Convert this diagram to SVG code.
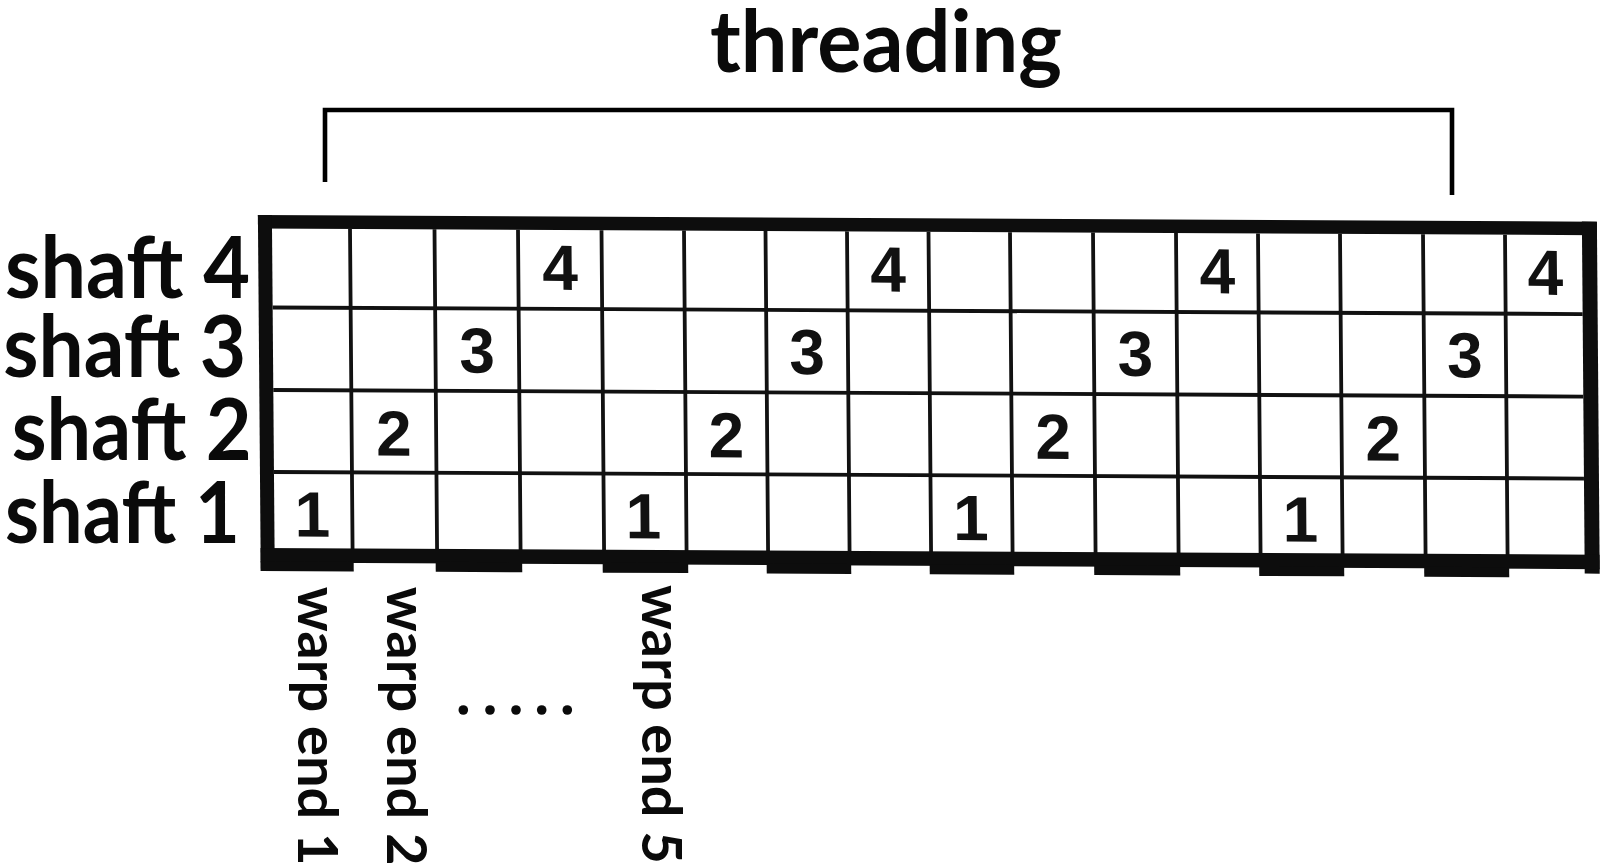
<svg xmlns="http://www.w3.org/2000/svg" width="1600" height="866" viewBox="0 0 1600 866">
<style>
.lbl{font-family:Lato,"Open Sans","Liberation Sans",sans-serif;font-weight:700;fill:#0a0a0a}
.dig{font-family:"Liberation Sans",Arial,sans-serif;font-weight:700;font-size:64px;fill:#111;text-anchor:middle}
.gl{stroke:#111;stroke-width:3.8;fill:none}
.bd{fill:#0d0d0d}
</style>
<rect width="1600" height="866" fill="#fff"/>
<g id="title">
<text class="lbl" x="710" y="71.7" font-size="86" textLength="352" lengthAdjust="spacingAndGlyphs">threading</text>
</g>
<g id="connectors">
<path id="threading-bracket" d="M325,182V110H1452V195" fill="none" stroke="#000" stroke-width="4.6"/>
</g>
<g id="shaft-labels" class="lbl" font-size="87">
<text id="shaft4" x="5" y="298.3" textLength="245" lengthAdjust="spacingAndGlyphs">shaft 4</text>
<text id="shaft3" x="3.3" y="376.7" textLength="243" lengthAdjust="spacingAndGlyphs">shaft 3</text>
<text id="shaft2" x="11.7" y="460" textLength="240" lengthAdjust="spacingAndGlyphs">shaft 2</text>
<text id="shaft1" x="5" y="543.3" textLength="235" lengthAdjust="spacingAndGlyphs">shaft 1</text>
</g>
<g id="grid" transform="matrix(1 0.005 0.008 1 -1.824 -1.36)">
<rect x="272" y="228.5" width="1310" height="321" fill="#fff"/>
<g class="gl">
<path d="M272,307.5H1582M272,390H1582M272,472H1582"/>
<path d="M350,228.5V549.5M434.5,228.5V549.5M518,228.5V549.5M601.5,228.5V549.5M684,228.5V549.5M765.5,228.5V549.5M847,228.5V549.5M928.5,228.5V549.5M1010,228.5V549.5M1093,228.5V549.5M1176,228.5V549.5M1258,228.5V549.5M1340,228.5V549.5M1423,228.5V549.5M1505,228.5V549.5"/>
</g>
<g class="bd">
<rect x="258" y="215" width="1339" height="13.5"/>
<rect x="258" y="215" width="14" height="356"/>
<rect x="1582" y="215" width="15" height="352"/>
<rect x="258" y="548" width="1339" height="14.5"/>
<rect x="258" y="561" width="93" height="10"/>
<rect x="433" y="561" width="86.5" height="10"/>
<rect x="600" y="561" width="85.5" height="10"/>
<rect x="764" y="561" width="84.5" height="10"/>
<rect x="927" y="561" width="84.5" height="10"/>
<rect x="1091.5" y="561" width="86" height="10"/>
<rect x="1256.5" y="561" width="85" height="10"/>
<rect x="1421.5" y="561" width="85" height="10"/>
</g>
<g id="row-shaft4" class="dig">
<text x="559.75" y="288.5">4</text><text x="887.75" y="288.5">4</text><text x="1217" y="288.5">4</text><text x="1545" y="288.5">4</text>
</g>
<g id="row-shaft3" class="dig">
<text x="476.25" y="371.5">3</text><text x="806.25" y="371.5">3</text><text x="1134.5" y="371.5">3</text><text x="1464" y="371.5">3</text>
</g>
<g id="row-shaft2" class="dig">
<text x="392.25" y="455">2</text><text x="724.75" y="455">2</text><text x="1051.5" y="455">2</text><text x="1381.5" y="455">2</text>
</g>
<g id="row-shaft1" class="dig">
<text x="310" y="536.5">1</text><text x="641" y="536.5">1</text><text x="968.5" y="536.5">1</text><text x="1298" y="536.5">1</text>
</g>
</g>
<g id="warp-labels" class="lbl" font-size="56">
<text id="warp1" transform="translate(298.3,586.7) rotate(90)">warp end 1</text>
<text id="warp2" transform="translate(386.7,586.7) rotate(90)">warp end 2</text>
<text id="warp5" transform="translate(641.5,585) rotate(90)">warp end 5</text>
</g>
<g id="ellipsis" fill="#0a0a0a">
<circle cx="463.3" cy="710" r="4.8"/><circle cx="490" cy="710" r="4.8"/><circle cx="516" cy="710" r="4.8"/><circle cx="541.7" cy="710" r="4.8"/><circle cx="567.3" cy="710" r="4.8"/>
</g>
</svg>
